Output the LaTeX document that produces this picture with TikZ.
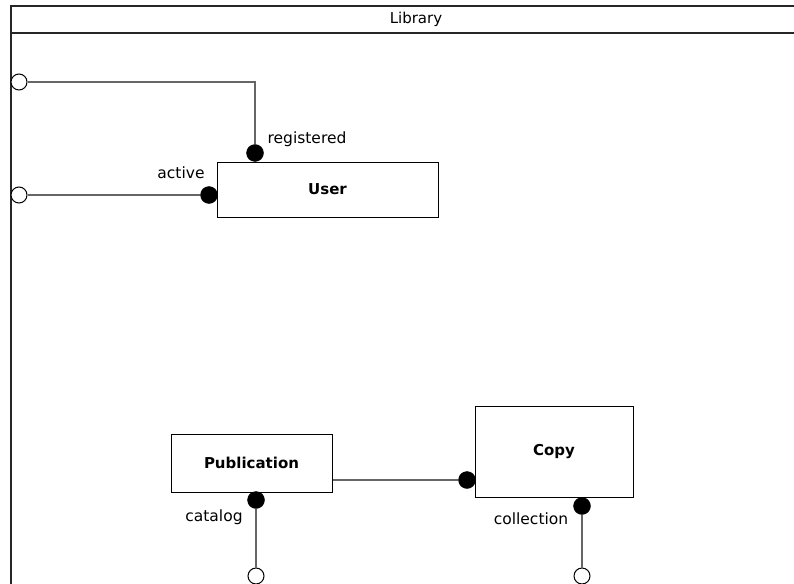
\documentclass[tikz,border=0pt]{standalone}
\usepackage{fontspec}
\setmainfont{DejaVu Sans}
\begin{document}
\begin{tikzpicture}[x=1pt,y=-1pt,
  frameline/.style={line width=2pt,black!85},
  entity/.style={draw=black,line width=1pt,fill=white,inner sep=0pt,font=\bfseries\fontsize{15}{17}\selectfont},
  conn/.style={draw=black!60,line width=1.1pt},
  role/.style={circle,fill=black,draw=black,minimum size=17pt,inner sep=0pt},
  port/.style={circle,fill=white,draw=black,line width=1pt,minimum size=16pt,inner sep=0pt},
  lbl/.style={inner sep=0pt,font=\fontsize{15.5}{17}\selectfont}]
\useasboundingbox (0,0) rectangle (794,583);
\begin{scope}
\clip (0,0) rectangle (794,583);
% frame
\draw[frameline] (11,590) -- (11,6) -- (800,6);
\draw[frameline] (11,33) -- (800,33);
\node[inner sep=0pt,font=\fontsize{15}{17}\selectfont] (title) at (416,19) {Library};

% entities
\node[entity,minimum width=221pt,minimum height=55pt] (user) at (327.5,189.5) {User};
\node[entity,minimum width=161pt,minimum height=58pt] (pub) at (251.5,463) {Publication};
\node[entity,minimum width=158pt,minimum height=91pt] (copy) at (554,451.5) {Copy};

% ports and role ends
\node[port] (p1) at (19,82) {};
\node[port] (p2) at (19,195) {};
\node[port] (p3) at (256,576) {};
\node[port] (p4) at (582,576) {};
\node[role] (rreg) at (255,153) {};
\node[role] (ract) at (209,195) {};
\node[role] (rcopy) at (467,480) {};
\node[role] (rcat) at (256,500) {};
\node[role] (rcol) at (582,506) {};

% connectors
\draw[conn] (rreg.north) |- (p1.east);
\draw[conn] (ract.west) -- (p2.east);
\draw[conn] (pub.east |- rcopy) -- (rcopy.west);
\draw[conn] (rcat.south) -- (p3.north);
\draw[conn] (rcol.south) -- (p4.north);

% labels
\node[lbl] (lreg) at (307,139) {registered};
\node[lbl] (lact) at (181,173) {active};
\node[lbl] (lcat) at (214,517) {catalog};
\node[lbl] (lcol) at (531,519) {collection};
\end{scope}
\end{tikzpicture}
\end{document}
